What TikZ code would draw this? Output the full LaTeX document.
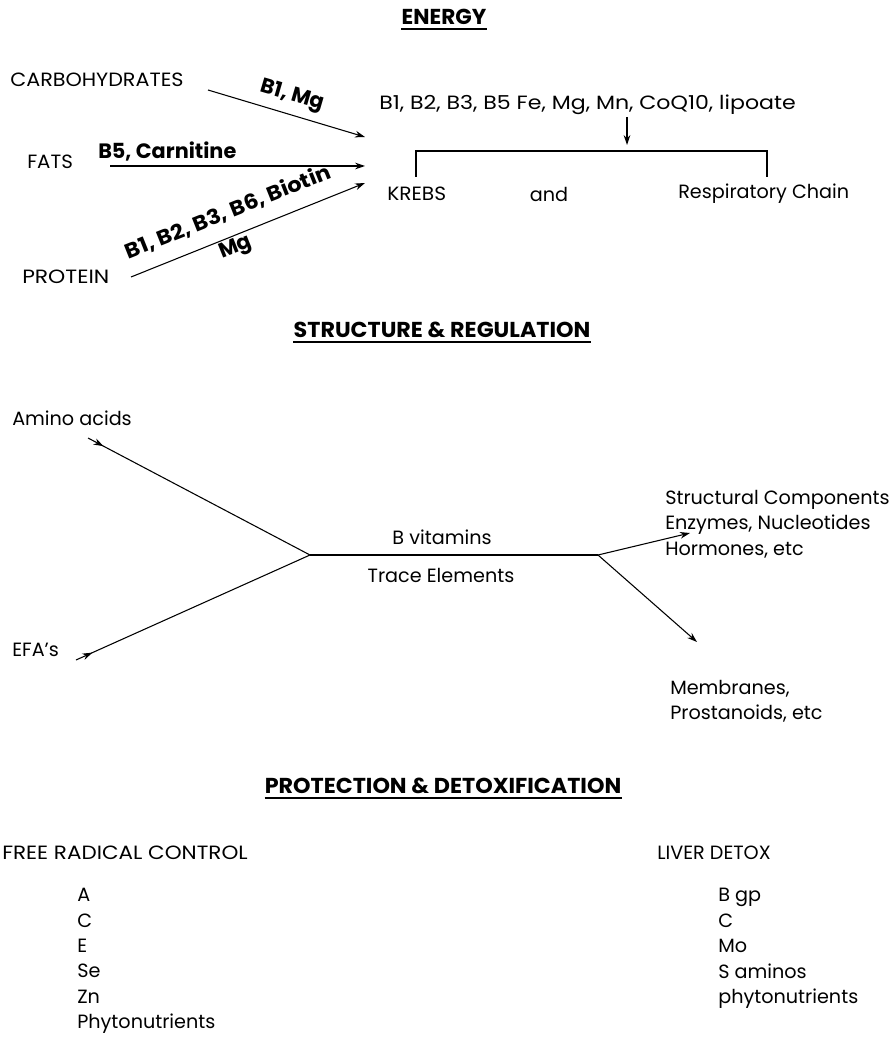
\documentclass[tikz,border=0pt]{standalone}
\usepackage{fontspec}
\setmainfont{Poppins}
\usetikzlibrary{arrows.meta,decorations.markings}
\newcommand{\hstretch}[2]{\scalebox{#1}[1]{#2}}
\begin{document}
\begin{tikzpicture}[x=0.75pt,y=-0.75pt,
  txt/.style={inner sep=0pt,font=\fontsize{14.4}{18}\selectfont},
  lft/.style={txt,anchor=west},
  lbl/.style={inner sep=0pt,font=\fontsize{15.6}{18}\selectfont\bfseries},
  head/.style={inner sep=0pt,font=\fontsize{16.2}{18}\selectfont\bfseries},
  lst/.style={lft,align=left,anchor=north west,font=\fontsize{14.4}{19.1}\selectfont},
  uline/.style={line width=1pt},
  link/.style={line width=0.8pt},
  arr/.style={link,-{Stealth[length=7.5pt,width=5pt]}},
  midarr/.style={link,decoration={markings,mark=at position #1 with {\arrow{Stealth[length=7.5pt,width=5pt]}}},postaction={decorate}}
]
\useasboundingbox (0,0) rectangle (890,1037);

% ---------------- Energy ----------------
\node[head] (hE) at (444,17) {ENERGY};
\draw[uline] (hE.south west)++(0,4) coordinate (uE1) -- (hE.south east|-uE1) coordinate (uE2);

\node[lft] (carb) at (10,80) {\hstretch{1.08}{CARBOHYDRATES}};
\node[lft] (fats) at (27,162) {\hstretch{1.03}{FATS}};
\node[lft] (prot) at (22,277) {\hstretch{1.14}{PROTEIN}};

\coordinate (cS) at (208,90);  \coordinate (cE) at (365,137);
\coordinate (fS) at (110,166); \coordinate (fE) at (365,166);
\coordinate (pS) at (131,277); \coordinate (pE) at (365,183);
\draw[arr] (cS) -- (cE);
\draw[arr] (fS) -- (fE);
\draw[arr] (pS) -- (pE);

\node[lbl,rotate=-16.3] (lc) at (292,96) {B1, Mg};
\node[lbl,anchor=west] (lf) at (98,152) {B5, Carnitine};
\node[lbl,rotate=21.8] (lp1) at (228,212) {\hstretch{1.08}{B1, B2, B3, B6, Biotin}};
\node[lbl,rotate=21.8] (lp2) at (236,248) {Mg};

\node[lft] (cof) at (379,105) {\hstretch{1.15}{B1, B2, B3, B5 Fe, Mg, Mn, CoQ10, lipoate}};
\coordinate (dT) at (627,117); \coordinate (dB) at (627,145);
\draw[arr] (dT) -- (dB);

\node[lft] (krebs) at (387,194) {\hstretch{1.05}{KREBS}};
\node[txt] (and) at (549,194) {and};
\node[lft] (resp) at (678,194) {Respiratory Chain};
\coordinate (bL) at (416,177); \coordinate (bR) at (767,177);
\draw[link] (bL) -- (416,151) -- (767,151) -- (bR);

% ---------------- Structure & regulation ----------------
\node[head] (hS) at (442,330) {\hstretch{1.03}{STRUCTURE \& REGULATION}};
\draw[uline] (hS.south west)++(0,4) coordinate (uS1) -- (hS.south east|-uS1) coordinate (uS2);

\node[lft] (amino) at (12,418) {Amino acids};
\node[lft] (efa) at (12,650) {EFA's};
\coordinate (jL) at (310,555);
\coordinate (jR) at (598,555);
\coordinate (aS) at (88,438);
\coordinate (eS) at (76,660);
\draw[midarr=0.07] (aS) -- (jL);
\draw[midarr=0.07] (eS) -- (jL);
\draw[link] (jL) -- (jR);
\node[txt] (bvit) at (442,537) {B vitamins};
\node[txt] (trace) at (441,575) {Trace Elements};

\node[lst] (struct) at (665,490) {Structural Components\\Enzymes, Nucleotides\\Hormones, etc};
\node[lst] (memb) at (670,680) {Membranes,\\Prostanoids, etc};
\coordinate (sE) at (690,533);
\coordinate (mE) at (697,642);
\draw[arr] (jR) -- (sE);
\draw[arr] (jR) -- (mE);

% ---------------- Protection & detoxification ----------------
\node[head] (hP) at (443,786) {\hstretch{1.03}{PROTECTION \& DETOXIFICATION}};
\draw[uline] (hP.south west)++(0,4) coordinate (uP1) -- (hP.south east|-uP1) coordinate (uP2);

\node[lft] (frc) at (2,853) {\hstretch{1.12}{FREE RADICAL CONTROL}};
\node[lst] (frl) at (77,888) {A\\C\\E\\Se\\Zn\\Phytonutrients};
\node[lft] (liv) at (657,853) {LIVER DETOX};
\node[lst] (livl) at (718,888) {B gp\\C\\Mo\\S aminos\\phytonutrients};
\end{tikzpicture}
\end{document}
